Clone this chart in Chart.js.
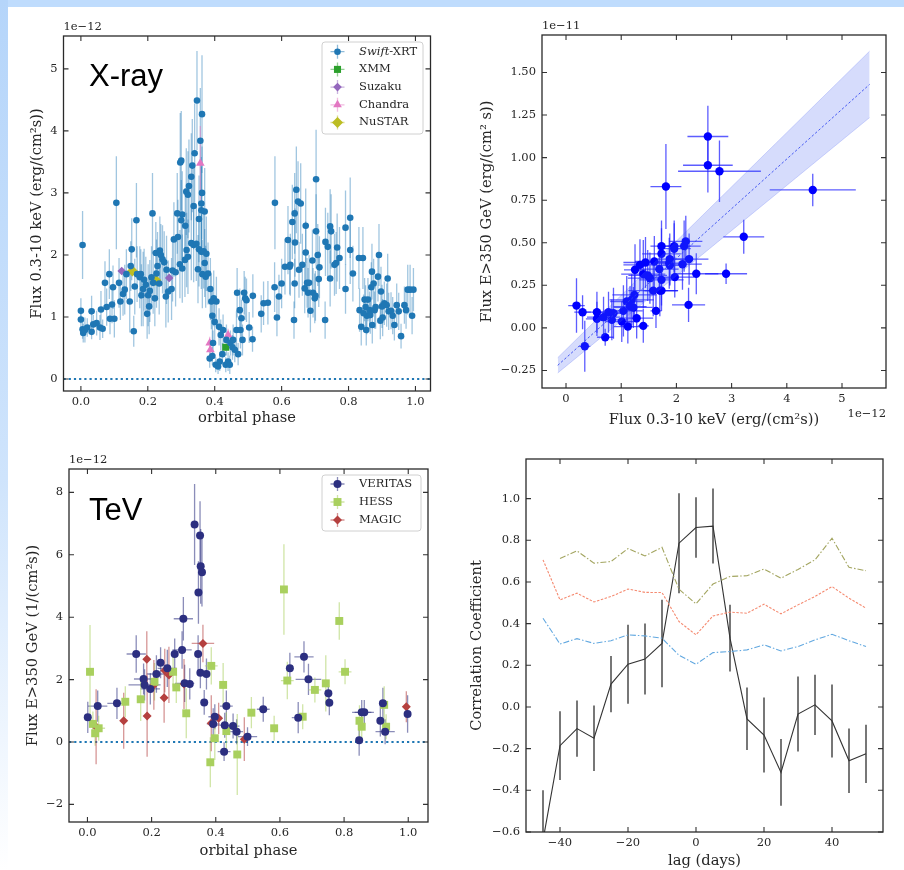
<!DOCTYPE html>
<html><head><meta charset="utf-8">
<script src="https://cdn.jsdelivr.net/npm/chart.js@4.4.1/dist/chart.umd.min.js"></script>
<style>
html,body{margin:0;padding:0;background:#fff;}
#page{position:relative;width:904px;height:870px;overflow:hidden;background:#fff;}
#topbar{position:absolute;left:0;top:0;width:904px;height:7px;background:#bfdcfd;z-index:5;}
#leftbar{position:absolute;left:0;top:0;width:8px;height:870px;background:linear-gradient(#b5d5fa,#cfe4fc 55%,#ffffff);z-index:5;}
canvas{position:absolute;}
</style></head><body>
<div id="page">
<div id="topbar"></div><div id="leftbar"></div>
<canvas id="c1" width="452" height="435" style="left:0;top:0;width:452px;height:435px"></canvas>
<canvas id="c2" width="452" height="435" style="left:452px;top:0;width:452px;height:435px"></canvas>
<canvas id="c3" width="452" height="435" style="left:0;top:435px;width:452px;height:435px"></canvas>
<canvas id="c4" width="452" height="435" style="left:452px;top:435px;width:452px;height:435px"></canvas>
</div>
<script>
// ---------------- DATA ----------------
// X-ray light curve: [orbital phase, flux (1e-12 erg/cm2/s), error]
const SWIFT = [
[0.000,1.10,0.20],[0.000,0.96,0.18],[0.005,0.80,0.15],[0.005,2.16,0.55],[0.007,0.74,0.15],[0.012,0.79,0.2],[0.019,0.83,0.15],[0.032,1.09,0.25],[0.032,0.76,0.12],[0.037,0.88,0.15],[0.047,0.90,0.2],[0.057,0.83,0.2],[0.060,1.12,0.3],[0.065,0.81,0.15],[0.072,1.55,0.35],[0.077,1.16,0.3],[0.085,1.69,0.4],[0.087,0.97,0.25],[0.093,1.20,0.3],[0.096,1.48,0.35],[0.100,0.97,0.3],[0.106,2.84,0.75],[0.114,1.55,0.4],[0.118,1.25,0.3],[0.126,1.37,0.35],[0.131,1.44,0.4],[0.136,1.69,0.4],[0.146,1.25,0.5],[0.149,1.82,0.4],[0.152,2.09,0.5],[0.158,0.77,0.25],[0.161,1.49,0.45],[0.166,2.56,0.6],[0.168,1.69,0.45],[0.176,1.64,0.5],[0.179,1.69,0.4],[0.181,1.35,0.5],[0.186,1.45,0.6],[0.189,1.60,0.5],[0.194,1.52,0.45],[0.198,1.05,0.4],[0.201,1.35,0.5],[0.204,1.17,0.45],[0.206,1.42,0.5],[0.211,1.64,0.5],[0.214,2.67,0.65],[0.216,1.55,0.5],[0.221,1.30,0.45],[0.224,2.03,0.5],[0.226,1.70,0.55],[0.229,1.82,0.55],[0.234,1.54,0.5],[0.236,2.07,0.55],[0.239,2.00,0.5],[0.244,1.93,0.55],[0.249,1.88,0.5],[0.254,1.33,0.5],[0.256,1.76,0.55],[0.261,1.41,0.5],[0.271,1.45,0.5],[0.274,1.75,0.5],[0.278,2.25,0.6],[0.283,1.72,0.55],[0.288,2.67,0.65],[0.290,2.29,0.6],[0.296,1.85,0.55],[0.297,3.49,0.8],[0.300,3.52,0.8],[0.300,2.56,0.65],[0.303,2.65,0.7],[0.303,1.78,0.55],[0.311,1.92,0.6],[0.312,2.47,0.6],[0.315,3.02,0.7],[0.316,2.08,0.6],[0.320,2.97,0.7],[0.320,1.97,0.6],[0.323,3.11,0.75],[0.330,3.26,0.7],[0.330,2.19,0.6],[0.333,3.44,0.75],[0.337,2.79,0.7],[0.337,2.16,0.6],[0.340,3.64,0.8],[0.345,2.18,0.6],[0.347,4.49,0.8],[0.350,1.77,0.55],[0.353,2.58,0.7],[0.353,2.09,0.6],[0.357,3.84,0.85],[0.360,2.83,0.75],[0.360,2.72,0.7],[0.360,2.05,0.6],[0.362,4.27,0.95],[0.362,3.00,0.75],[0.363,1.69,0.55],[0.367,2.06,0.6],[0.370,2.70,0.7],[0.370,1.87,0.55],[0.373,1.65,0.5],[0.375,2.02,0.6],[0.380,1.70,0.5],[0.387,1.45,0.5],[0.390,1.25,0.45],[0.393,1.02,0.4],[0.397,1.30,0.45],[0.400,0.92,0.35],[0.405,1.25,0.4],[0.385,0.33,0.15],[0.393,0.37,0.15],[0.395,0.58,0.2],[0.403,0.23,0.12],[0.410,0.20,0.12],[0.413,0.84,0.3],[0.415,0.28,0.15],[0.418,0.71,0.25],[0.423,0.40,0.18],[0.425,0.79,0.25],[0.433,0.23,0.12],[0.435,0.63,0.25],[0.440,0.28,0.15],[0.445,0.23,0.15],[0.447,0.58,0.2],[0.453,0.51,0.2],[0.455,0.63,0.25],[0.460,0.47,0.2],[0.465,0.79,0.3],[0.467,1.39,0.4],[0.470,0.40,0.18],[0.475,1.11,0.35],[0.477,0.79,0.3],[0.480,0.98,0.3],[0.483,0.63,0.25],[0.488,1.39,0.35],[0.491,1.30,0.35],[0.495,1.27,0.35],[0.503,0.83,0.25],[0.513,0.64,0.2],[0.514,1.34,0.35],[0.539,1.05,0.3],[0.546,1.22,0.35],[0.559,1.23,0.35],[0.579,1.48,0.4],[0.580,2.84,0.75],[0.586,0.99,0.3],[0.592,1.33,0.35],[0.600,1.54,0.4],[0.610,1.81,0.45],[0.619,2.24,0.55],[0.624,1.81,0.45],[0.626,1.84,0.5],[0.632,2.53,0.6],[0.637,0.95,0.3],[0.639,2.67,0.65],[0.639,1.54,0.4],[0.640,2.20,0.55],[0.644,3.05,0.7],[0.649,2.86,0.65],[0.652,1.76,0.45],[0.657,2.83,0.65],[0.662,1.84,0.5],[0.669,1.46,0.4],[0.672,2.47,0.6],[0.672,2.04,0.5],[0.676,1.55,0.4],[0.679,1.39,0.4],[0.682,1.55,0.45],[0.686,1.10,0.35],[0.692,1.91,0.5],[0.694,1.39,0.4],[0.699,1.30,0.4],[0.701,1.34,0.4],[0.703,3.22,0.8],[0.703,2.38,0.6],[0.708,2.00,0.5],[0.711,1.61,0.45],[0.713,1.80,0.5],[0.730,0.95,0.3],[0.731,2.21,0.55],[0.738,2.13,0.55],[0.745,2.46,0.6],[0.745,1.62,0.45],[0.748,2.38,0.6],[0.758,1.84,0.5],[0.763,1.87,0.5],[0.766,2.12,0.55],[0.773,1.95,0.5],[0.791,2.44,0.6],[0.791,1.45,0.4],[0.805,2.60,0.65],[0.805,2.08,0.55],[0.813,1.70,0.45],[0.831,1.95,0.5],[0.833,1.11,0.35],[0.838,0.84,0.3],[0.843,1.95,0.5],[0.845,1.06,0.3],[0.848,1.28,0.35],[0.851,1.16,0.35],[0.853,0.79,0.25],[0.855,1.02,0.3],[0.858,1.28,0.35],[0.863,1.11,0.3],[0.865,1.03,0.3],[0.868,1.48,0.4],[0.870,1.73,0.45],[0.871,0.87,0.3],[0.875,1.54,0.4],[0.878,1.11,0.3],[0.881,1.16,0.35],[0.888,1.65,0.4],[0.891,2.00,0.5],[0.895,0.94,0.3],[0.897,1.41,0.4],[0.900,1.17,0.35],[0.902,0.99,0.3],[0.907,1.22,0.35],[0.914,1.19,0.35],[0.917,1.62,0.4],[0.920,1.09,0.3],[0.927,1.10,0.3],[0.932,1.02,0.3],[0.937,0.87,0.25],[0.944,1.19,0.35],[0.950,1.09,0.3],[0.957,0.69,0.2],[0.967,1.19,0.3],[0.972,1.11,0.3],[0.977,1.44,0.4],[0.984,1.44,0.4],[0.990,1.02,0.3],[0.994,1.44,0.35]
];
const XMM = [[0.433,0.51,0.05]];
const SUZAKU = [[0.122,1.74,0.05],[0.264,1.63,0.06]];
const CHANDRA = [[0.357,3.48,0.6],[0.385,0.58,0.1],[0.387,0.47,0.1],[0.440,0.71,0.1]];
const NUSTAR = [[0.154,1.74,0.05],[0.224,1.59,0.05]];
const XRAY_XTICKS = [0,0.2,0.4,0.6,0.8,1.0];
const XRAY_YTICKS = [0,1,2,3,4,5];

// X-ray vs TeV flux: [Fx (1e-12), Ftev (1e-11), xerr, yerr]
const CORR_PTS = [
[0.19,0.131,0.15,0.16],[0.30,0.092,0.15,0.10],[0.34,-0.108,0.10,0.15],[0.56,0.092,0.20,0.12],[0.56,0.053,0.20,0.10],[0.68,0.063,0.30,0.12],[0.71,-0.055,0.15,0.05],[0.77,0.092,0.25,0.12],[0.83,0.047,0.30,0.12],[0.86,0.086,0.20,0.15],[1.01,0.037,0.30,0.12],[1.04,0.100,0.35,0.15],[1.12,0.008,0.25,0.10],[1.10,0.155,0.30,0.15],[1.16,0.125,0.30,0.12],[1.19,0.165,0.40,0.15],[1.22,0.120,0.35,0.12],[1.24,0.194,0.40,0.15],[1.25,0.341,0.20,0.15],[1.28,0.057,0.30,0.12],[1.34,0.370,0.30,0.15],[1.40,0.012,0.10,0.10],[1.40,0.316,0.40,0.20],[1.44,0.384,0.40,0.15],[1.48,0.308,0.35,0.15],[1.52,0.292,0.40,0.15],[1.58,0.219,0.45,0.15],[1.60,0.390,0.35,0.15],[1.63,0.100,0.10,0.10],[1.69,0.345,0.35,0.15],[1.70,0.219,0.30,0.15],[1.73,0.435,0.35,0.15],[1.73,0.480,0.20,0.15],[1.73,0.282,0.40,0.15],[1.73,0.219,0.30,0.12],[1.87,0.380,0.30,0.15],[1.88,0.404,0.30,0.15],[1.88,0.367,0.25,0.12],[1.96,0.480,0.30,0.15],[1.96,0.465,0.30,0.15],[1.97,0.298,0.35,0.12],[2.11,0.374,0.35,0.15],[2.14,0.480,0.30,0.15],[2.17,0.508,0.30,0.15],[2.22,0.135,0.30,0.10],[2.23,0.404,0.35,0.15],[2.36,0.318,0.40,0.12],[2.90,0.318,0.38,0.06],[3.22,0.535,0.37,0.10],[1.81,0.830,0.28,0.25],[2.57,1.124,0.37,0.18],[2.57,0.955,0.45,0.16],[2.78,0.920,0.75,0.18],[4.47,0.810,0.78,0.095]
];
const FIT_X = [-0.15, 5.5];
const FIT_Y = [-0.22, 1.43];
const BAND_LO = [-0.265, 1.235];
const BAND_HI = [-0.175, 1.625];
const CORR_XTICKS = [0,1,2,3,4,5];
const CORR_YTICKS = [-0.25,0,0.25,0.5,0.75,1.0,1.25,1.5];

// TeV light curve: [phase, flux (1e-12), xerr, yerr]
const VERITAS = [
[0.001,0.79,0.005,0.5],[0.032,1.15,0.03,0.5],[0.092,1.24,0.03,0.5],[0.152,2.82,0.03,0.6],[0.175,2.02,0.03,0.5],[0.178,1.83,0.05,0.5],[0.196,1.70,0.03,0.5],[0.215,2.18,0.03,0.6],[0.228,2.54,0.01,0.5],[0.249,2.36,0.03,0.6],[0.272,2.82,0.01,0.5],[0.295,2.95,0.03,0.6],[0.299,3.95,0.03,0.7],[0.303,1.88,0.03,0.6],[0.319,1.86,0.01,0.5],[0.334,6.97,0.005,1.3],[0.345,2.82,0.01,0.6],[0.346,4.79,0.005,1.0],[0.351,6.62,0.005,1.1],[0.352,2.22,0.01,0.5],[0.353,5.63,0.005,1.2],[0.357,5.44,0.005,1.1],[0.364,1.27,0.01,0.4],[0.371,2.18,0.01,0.5],[0.392,0.58,0.02,0.5],[0.397,0.81,0.02,0.4],[0.426,-0.31,0.02,0.3],[0.428,0.54,0.03,0.4],[0.433,1.15,0.02,0.5],[0.454,0.51,0.02,0.4],[0.465,0.33,0.02,0.4],[0.499,0.17,0.03,0.3],[0.548,1.05,0.02,0.4],[0.631,2.36,0.01,0.5],[0.657,0.78,0.02,0.5],[0.675,2.73,0.03,0.5],[0.689,2.01,0.04,0.5],[0.751,1.56,0.01,0.4],[0.754,1.26,0.01,0.4],[0.847,0.06,0.01,0.5],[0.855,0.95,0.03,0.4],[0.863,0.95,0.03,0.4],[0.913,0.68,0.01,0.5],[0.921,1.24,0.01,0.5],[0.928,0.33,0.03,0.4],[0.998,0.90,0.01,0.6]
];
const HESS = [
[0.008,2.25,0.005,1.5],[0.017,0.58,0.005,0.4],[0.024,0.28,0.005,0.4],[0.035,0.44,0.02,0.4],[0.118,1.29,0.005,0.5],[0.166,1.37,0.005,0.7],[0.209,1.93,0.005,0.6],[0.267,2.25,0.005,0.5],[0.277,1.75,0.01,0.5],[0.308,0.92,0.005,0.8],[0.383,-0.65,0.005,0.8],[0.386,2.44,0.02,0.6],[0.397,0.12,0.005,0.7],[0.423,1.83,0.005,0.7],[0.433,0.35,0.005,0.6],[0.467,-0.40,0.005,1.3],[0.511,0.94,0.005,0.5],[0.582,0.44,0.005,0.4],[0.6125,4.89,0.005,1.45],[0.623,1.97,0.02,0.6],[0.671,0.81,0.005,0.4],[0.709,1.67,0.02,0.4],[0.743,1.88,0.005,0.9],[0.785,3.88,0.005,0.6],[0.803,2.25,0.02,0.4],[0.848,0.68,0.005,0.5],[0.855,0.49,0.01,0.5],[0.925,1.19,0.005,0.6],[0.931,0.49,0.01,0.4]
];
const MAGIC = [
[0.027,0.49,0.01,1.2],[0.113,0.68,0.005,0.9],[0.185,2.65,0.005,0.9],[0.186,0.83,0.005,1.3],[0.207,1.83,0.005,0.8],[0.239,1.42,0.005,0.8],[0.241,2.29,0.005,0.7],[0.254,2.15,0.005,0.9],[0.301,1.86,0.01,0.8],[0.360,3.16,0.035,0.6],[0.386,0.60,0.005,0.9],[0.409,0.76,0.01,0.5],[0.489,0.09,0.005,0.7],[0.994,1.13,0.005,0.5]
];
const TEV_XTICKS = [0,0.2,0.4,0.6,0.8,1.0];
const TEV_YTICKS = [-2,0,2,4,6,8];

// Cross-correlation vs lag
const LAGS = [-45,-40,-35,-30,-25,-20,-15,-10,-5,0,5,10,15,20,25,30,35,40,45,50];
const DCF = [-0.64,-0.186,-0.104,-0.15,0.11,0.205,0.23,0.305,0.786,0.861,0.868,0.33,-0.057,-0.135,-0.314,-0.034,0.01,-0.067,-0.258,-0.225];
const DCF_ERR = [0.24,0.165,0.135,0.157,0.135,0.19,0.17,0.21,0.24,0.145,0.18,0.16,0.15,0.18,0.16,0.18,0.145,0.175,0.155,0.14];
const LEVEL_HI = [null,0.713,0.749,0.69,0.698,0.76,0.725,0.766,0.565,0.495,0.59,0.626,0.63,0.662,0.618,0.66,0.706,0.81,0.67,0.654];
const LEVEL_MID = [0.706,0.514,0.546,0.504,0.53,0.566,0.55,0.549,0.41,0.346,0.437,0.455,0.45,0.493,0.447,0.49,0.53,0.578,0.522,0.474];
const LEVEL_LO = [0.426,0.302,0.328,0.305,0.318,0.346,0.341,0.33,0.248,0.205,0.261,0.266,0.274,0.298,0.269,0.29,0.322,0.349,0.318,0.29];
const DCF_XTICKS = [-40,-20,0,20,40];
const DCF_YTICKS = [-0.6,-0.4,-0.2,0,0.2,0.4,0.6,0.8,1.0];

// ---------------- DRAWING ----------------
const SERIF = '"DejaVu Serif", serif';
const TXT = '#262626';
const TICKFONT = 11.5, TITLEFONT = 14.7;

function fmt(d){ return v => (Math.abs(v) < 1e-12 ? 0 : v).toFixed(d).replace('-', '\u2212'); }

function marker(ctx, style, x, y, r, color){
  ctx.fillStyle = color; ctx.beginPath();
  if (style === 'circle') ctx.arc(x, y, r, 0, Math.PI*2);
  else if (style === 'rect') { const s = r*Math.SQRT1_2; ctx.rect(x-s, y-s, 2*s, 2*s); }
  else if (style === 'rectRot') { ctx.moveTo(x, y-r); ctx.lineTo(x+r, y); ctx.lineTo(x, y+r); ctx.lineTo(x-r, y); ctx.closePath(); }
  else if (style === 'triangle') { ctx.moveTo(x, y-r); ctx.lineTo(x+r*0.866, y+r*0.5); ctx.lineTo(x-r*0.866, y+r*0.5); ctx.closePath(); }
  ctx.fill();
}

function drawLegend(ctx, L){
  ctx.save();
  ctx.beginPath();
  const r = 3, x = L.x, y = L.y, w = L.w, h = L.h;
  ctx.moveTo(x+r, y); ctx.lineTo(x+w-r, y); ctx.quadraticCurveTo(x+w, y, x+w, y+r);
  ctx.lineTo(x+w, y+h-r); ctx.quadraticCurveTo(x+w, y+h, x+w-r, y+h);
  ctx.lineTo(x+r, y+h); ctx.quadraticCurveTo(x, y+h, x, y+h-r);
  ctx.lineTo(x, y+r); ctx.quadraticCurveTo(x, y, x+r, y); ctx.closePath();
  ctx.fillStyle = 'rgba(255,255,255,0.85)'; ctx.fill();
  ctx.strokeStyle = '#d0d0d0'; ctx.lineWidth = 1; ctx.stroke();
  L.items.forEach((it, k) => {
    const yy = L.first + k*L.step, mx = L.mx;
    ctx.strokeStyle = it.err; ctx.lineWidth = 1.3;
    ctx.beginPath(); ctx.moveTo(mx-7, yy); ctx.lineTo(mx+7, yy); ctx.moveTo(mx, yy-7); ctx.lineTo(mx, yy+7); ctx.stroke();
    marker(ctx, it.style, mx, yy, it.r, it.color);
    ctx.fillStyle = TXT; ctx.textBaseline = 'middle'; ctx.textAlign = 'left';
    let tx = L.tx;
    if (it.italic) {
      ctx.font = 'italic ' + TICKFONT + 'px ' + SERIF;
      ctx.fillText(it.italic, tx, yy);
      tx += ctx.measureText(it.italic).width;
    }
    ctx.font = TICKFONT + 'px ' + SERIF;
    ctx.fillText(it.label, tx, yy);
  });
  ctx.restore();
}

const mplPlugin = {
  id: 'mpl',
  beforeDatasetsDraw(chart, args, o){
    const ctx = chart.ctx, a = chart.chartArea, xs = chart.scales.x, ys = chart.scales.y;
    ctx.save();
    ctx.beginPath(); ctx.rect(a.left, a.top, a.right-a.left, a.bottom-a.top); ctx.clip();
    if (o.zeroLine) {
      const yy = ys.getPixelForValue(0);
      ctx.strokeStyle = '#1f77b4'; ctx.lineWidth = 2; ctx.setLineDash([2.2, 3]);
      ctx.beginPath(); ctx.moveTo(a.left, yy); ctx.lineTo(a.right, yy); ctx.stroke();
      ctx.setLineDash([]);
    }
    chart.data.datasets.forEach(ds => {
      if (!ds.errs) return;
      ctx.strokeStyle = ds.errColor; ctx.lineWidth = ds.errWidth || 1.2;
      ds.data.forEach((p, j) => {
        const e = ds.errs[j]; if (!e) return;
        const px = xs.getPixelForValue(p.x), py = ys.getPixelForValue(p.y);
        ctx.beginPath();
        if (e[1]) { ctx.moveTo(px, ys.getPixelForValue(p.y - e[1])); ctx.lineTo(px, ys.getPixelForValue(p.y + e[1])); }
        if (e[0]) { ctx.moveTo(xs.getPixelForValue(p.x - e[0]), py); ctx.lineTo(xs.getPixelForValue(p.x + e[0]), py); }
        ctx.stroke();
      });
    });
    ctx.restore();
  },
  afterDraw(chart, args, o){
    const ctx = chart.ctx, a = chart.chartArea, xs = chart.scales.x, ys = chart.scales.y;
    ctx.save();
    ctx.strokeStyle = '#333'; ctx.lineWidth = 1.1;
    const tl = 5;
    ctx.beginPath();
    xs.ticks.forEach(t => { const px = xs.getPixelForValue(t.value);
      ctx.moveTo(px, a.bottom); ctx.lineTo(px, a.bottom - tl); ctx.moveTo(px, a.top); ctx.lineTo(px, a.top + tl); });
    ys.ticks.forEach(t => { const py = ys.getPixelForValue(t.value);
      ctx.moveTo(a.left, py); ctx.lineTo(a.left + tl, py); ctx.moveTo(a.right, py); ctx.lineTo(a.right - tl, py); });
    ctx.stroke();
    ctx.lineWidth = 1.3; ctx.strokeStyle = '#2a2a2a';
    ctx.strokeRect(a.left, a.top, a.right-a.left, a.bottom-a.top);
    ctx.font = TICKFONT + 'px ' + SERIF; ctx.fillStyle = TXT;
    if (o.offset) {
      ctx.textAlign = 'left'; ctx.textBaseline = 'bottom';
      ctx.fillText(o.offset, a.left, a.top - 3);
    }
    if (o.offsetX) {
      ctx.textAlign = 'right'; ctx.textBaseline = 'middle';
      ctx.fillText(o.offsetX, a.right, a.bottom + 26);
    }
    if (o.big) {
      ctx.font = '31px "Liberation Sans", Arial, sans-serif'; ctx.fillStyle = '#000';
      ctx.textAlign = 'left'; ctx.textBaseline = 'alphabetic';
      ctx.fillText(o.big.text, o.big.x, o.big.y);
    }
    if (o.legend) drawLegend(ctx, o.legend);
    ctx.restore();
  }
};

function axis(isX, min, max, ticks, dec, title, fixed, tpad){
  return {
    type: 'linear', min, max,
    grid: { display: false, drawTicks: false },
    border: { display: false },
    ticks: { font: { family: SERIF, size: TICKFONT }, color: TXT, padding: isX ? 4 : 6,
             autoSkip: false, maxRotation: 0, callback: fmt(dec) },
    afterBuildTicks: s => { s.ticks = ticks.map(v => ({ value: v })); },
    afterFit: s => { if (isX) s.height = fixed; else s.width = fixed; },
    title: { display: true, text: title, color: TXT, font: { family: SERIF, size: TITLEFONT },
             padding: isX ? { top: 0, bottom: tpad } : { top: tpad, bottom: 0 } }
  };
}

function pts(arr){ return arr.map(r => ({ x: r[0], y: r[1] })); }

function makeChart(id, P, datasets, xAx, yAx, mplOpts){
  return new Chart(document.getElementById(id), {
    type: 'scatter',
    data: { datasets },
    options: {
      responsive: false, animation: false, events: [],
      layout: { padding: { left: 0, top: P.T - P.cy, right: P.cx + P.w - P.R, bottom: 0 } },
      scales: { x: xAx, y: yAx },
      plugins: { legend: { display: false }, tooltip: { enabled: false }, mpl: mplOpts }
    },
    plugins: [mplPlugin]
  });
}

function sc(label, arr, style, r, color, errColor, errFn, errW){
  return { label, data: pts(arr), showLine: false, pointStyle: style, pointRadius: r,
           backgroundColor: color, borderWidth: 0, pointBorderWidth: 0,
           errs: arr.map(errFn), errColor, errWidth: errW || 1.3 };
}

// ---- Panel 1: X-ray ----
const P1 = { cx: 0, cy: 0, w: 452, h: 435, L: 63.5, T: 36, R: 430.5, B: 391 };
makeChart('c1', P1, [
  sc('Swift-XRT', SWIFT, 'circle', 3.3, '#1f77b4', 'rgba(31,119,180,0.42)', r => [0, r[2]]),
  sc('XMM', XMM, 'rect', 5, '#2ca02c', 'rgba(44,160,44,0.5)', r => [0.004, r[2]]),
  sc('Suzaku', SUZAKU, 'rectRot', 4.3, '#9467bd', 'rgba(148,103,189,0.5)', r => [0.004, r[2]]),
  sc('Chandra', CHANDRA, 'triangle', 5, '#e377c2', 'rgba(227,119,194,0.5)', r => [0.003, r[2]]),
  sc('NuSTAR', NUSTAR, 'rectRot', 5.5, '#bcbd22', 'rgba(188,189,34,0.5)', r => [0.004, r[2]])
],
  axis(true, -0.052, 1.045, XRAY_XTICKS, 1, 'orbital phase', P1.cy + P1.h - P1.B, 8.2),
  axis(false, -0.194, 5.53, XRAY_YTICKS, 0, 'Flux 0.3-10 keV (erg/(cm\u00b2s))', P1.L - P1.cx, 28.2),
  { zeroLine: true, offset: '1e\u221212', big: { text: 'X-ray', x: 89, y: 86 },
    legend: { x: 322, y: 42, w: 101, h: 92, mx: 337.5, tx: 359, first: 51.7, step: 17.7, items: [
      { italic: 'Swift', label: '-XRT', style: 'circle', r: 3.3, color: '#1f77b4', err: 'rgba(31,119,180,0.5)' },
      { label: 'XMM', style: 'rect', r: 5, color: '#2ca02c', err: 'rgba(44,160,44,0.5)' },
      { label: 'Suzaku', style: 'rectRot', r: 4.3, color: '#9467bd', err: 'rgba(148,103,189,0.5)' },
      { label: 'Chandra', style: 'triangle', r: 5, color: '#e377c2', err: 'rgba(227,119,194,0.5)' },
      { label: 'NuSTAR', style: 'rectRot', r: 5.5, color: '#bcbd22', err: 'rgba(188,189,34,0.5)' }
    ] } }
);

// ---- Panel 2: X-ray vs TeV ----
const P2 = { cx: 452, cy: 0, w: 452, h: 435, L: 542, T: 35, R: 886, B: 388 };
makeChart('c2', P2, [
  { label: 'band_lo', data: FIT_X.map((x, i) => ({ x, y: BAND_LO[i] })), showLine: true, pointRadius: 0,
    borderColor: 'rgba(60,80,240,0.22)', borderWidth: 1, fill: false },
  { label: 'band_hi', data: FIT_X.map((x, i) => ({ x, y: BAND_HI[i] })), showLine: true, pointRadius: 0,
    borderColor: 'rgba(60,80,240,0.22)', borderWidth: 1, fill: '-1', backgroundColor: 'rgba(70,95,240,0.22)' },
  { label: 'fit', data: FIT_X.map((x, i) => ({ x, y: FIT_Y[i] })), showLine: true, pointRadius: 0,
    borderColor: 'rgba(40,60,240,0.85)', borderWidth: 1, borderDash: [2.5, 2] },
  sc('data', CORR_PTS, 'circle', 4.2, '#0000ff', 'rgba(30,30,255,0.72)', r => [r[2], r[3]], 1.3)
],
  axis(true, -0.435, 5.797, CORR_XTICKS, 0, 'Flux 0.3-10 keV (erg/(cm\u00b2s))', P2.cy + P2.h - P2.B, 6.2),
  axis(false, -0.353, 1.72, CORR_YTICKS, 2, 'Flux E>350 GeV (erg/(cm\u00b2 s))', P2.L - P2.cx, 26.2),
  { offset: '1e\u221211', offsetX: '1e\u221212' }
);

// ---- Panel 3: TeV ----
const P3 = { cx: 0, cy: 435, w: 452, h: 435, L: 69, T: 469, R: 428, B: 822 };
makeChart('c3', P3, [
  sc('VERITAS', VERITAS, 'circle', 4, '#2c2f80', 'rgba(44,47,128,0.55)', r => [r[2], r[3]]),
  sc('HESS', HESS, 'rect', 5.6, '#a9d05e', 'rgba(169,208,94,0.55)', r => [r[2], r[3]]),
  sc('MAGIC', MAGIC, 'rectRot', 4.5, '#b5403f', 'rgba(181,64,63,0.55)', r => [r[2], r[3]])
],
  axis(true, -0.0575, 1.0616, TEV_XTICKS, 1, 'orbital phase', P3.cy + P3.h - P3.B, 10.2),
  axis(false, -2.564, 8.75, TEV_YTICKS, 0, 'Flux E>350 GeV (1/(cm\u00b2s))', P3.L - P3.cx, 24.2),
  { zeroLine: true, offset: '1e\u221212', big: { text: 'TeV', x: 89, y: 85 },
    legend: { x: 322, y: 40, w: 99, h: 56, mx: 337.5, tx: 359, first: 49, step: 18, items: [
      { label: 'VERITAS', style: 'circle', r: 4, color: '#2c2f80', err: 'rgba(44,47,128,0.55)' },
      { label: 'HESS', style: 'rect', r: 5.6, color: '#a9d05e', err: 'rgba(169,208,94,0.55)' },
      { label: 'MAGIC', style: 'rectRot', r: 4.5, color: '#b5403f', err: 'rgba(181,64,63,0.55)' }
    ] } }
);

// ---- Panel 4: correlation vs lag ----
const P4 = { cx: 452, cy: 435, w: 452, h: 435, L: 526, T: 459, R: 883, B: 832 };
function lagSeries(vals){ return LAGS.map((l, i) => ({ x: l, y: vals[i] })).filter(p => p.y !== null); }
makeChart('c4', P4, [
  { label: 'hi', data: lagSeries(LEVEL_HI), showLine: true, pointRadius: 0, borderColor: '#a3a560', borderWidth: 1.1, borderDash: [6, 2, 1.5, 2] },
  { label: 'mid', data: lagSeries(LEVEL_MID), showLine: true, pointRadius: 0, borderColor: '#f58a70', borderWidth: 1.1, borderDash: [2.5, 1.5] },
  { label: 'lo', data: lagSeries(LEVEL_LO), showLine: true, pointRadius: 0, borderColor: '#62a8e0', borderWidth: 1.1, borderDash: [6, 2, 1.5, 2] },
  { label: 'dcf', data: lagSeries(DCF), showLine: true, pointRadius: 0, borderColor: '#333333', borderWidth: 1.1,
    errs: DCF_ERR.map(e => [0, e]), errColor: '#555555', errWidth: 1.6 }
],
  axis(true, -50, 55, DCF_XTICKS, 0, 'lag (days)', P4.cy + P4.h - P4.B, 0.2),
  axis(false, -0.6, 1.19, DCF_YTICKS, 1, 'Correlation Coefficient', P4.L - P4.cx, 16.2),
  {}
);
</script>
</body></html>
